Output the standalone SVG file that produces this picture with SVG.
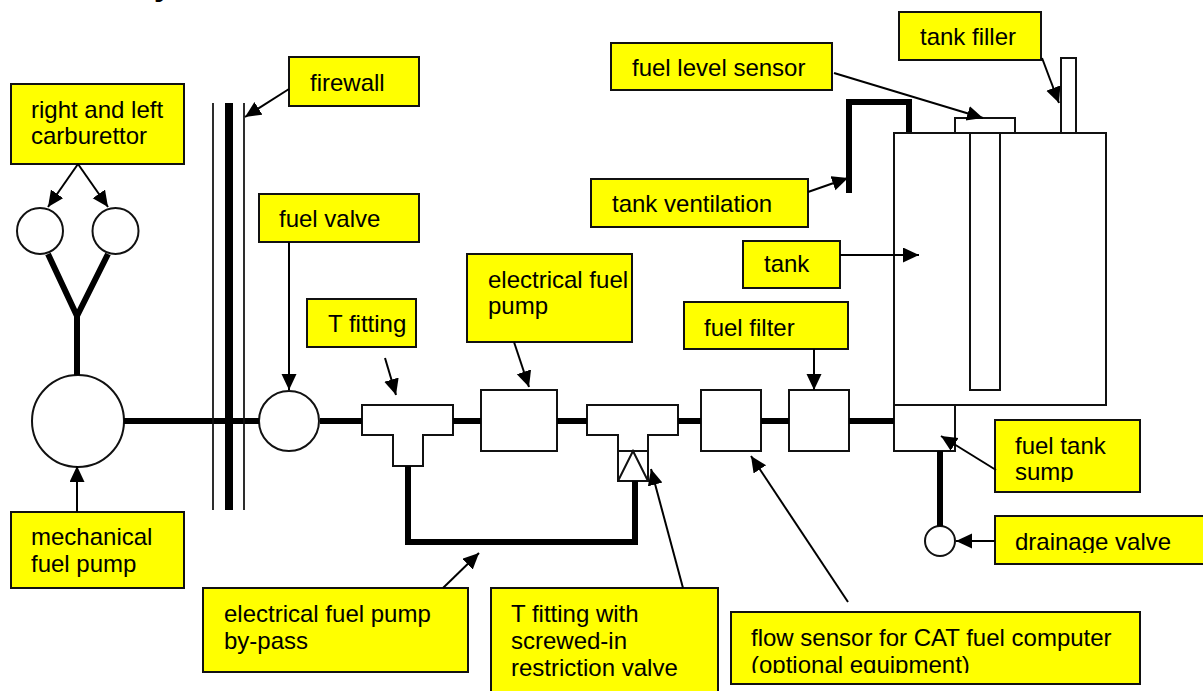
<svg xmlns="http://www.w3.org/2000/svg" width="1203" height="691" viewBox="0 0 1203 691">
<style>
text{font-family:"Liberation Sans",Arial,sans-serif;font-size:24px;fill:#000}
.b{fill:#ff0;stroke:#111;stroke-width:2}
.s{fill:#fff;stroke:#111;stroke-width:2}
.p{fill:none;stroke:#000;stroke-width:6}
.a{fill:none;stroke:#000;stroke-width:2;marker-end:url(#m)}
.t{fill:none;stroke:#111;stroke-width:1.75}
</style>
<defs>
<marker id="m" markerUnits="userSpaceOnUse" markerWidth="17" markerHeight="16" refX="16" refY="7.5" orient="auto"><path d="M0 0L16 7.5L0 15Z" fill="#000"/></marker>
<clipPath id="c1"><rect x="1000" y="425" width="135" height="57"/></clipPath>
<clipPath id="c2"><rect x="735" y="616" width="400" height="57"/></clipPath>
<clipPath id="c3"><rect x="1000" y="521" width="200" height="32"/></clipPath>
</defs>
<text x="154" y="-5" style="font-size:32px;font-weight:bold">y</text>
<g id="fuel-tank"><rect class="s" x="894" y="133" width="212" height="272"/></g>
<g id="level-sensor"><rect class="s" x="970" y="133" width="30" height="257"/><rect class="s" x="955" y="118" width="60" height="15"/></g>
<g id="filler"><rect class="s" x="1061" y="58" width="15" height="75"/></g>
<g id="sump"><rect class="s" x="894" y="405" width="61" height="46"/></g>
<g id="carburettor-l"><circle class="s" cx="40" cy="231" r="23"/></g>
<g id="carburettor-r"><circle class="s" cx="115.500" cy="231" r="23"/></g>
<g id="mech-pump"><circle class="s" cx="78" cy="421" r="46"/></g>
<g id="valve"><circle class="s" cx="289" cy="421" r="30"/></g>
<g id="drain"><circle class="s" cx="940" cy="541" r="15"/></g>
<g id="t-fitting"><path class="s" d="M362 405H453V435H423V466H393V435H362Z"/></g>
<g id="el-pump"><rect class="s" x="481" y="390" width="76" height="61"/></g>
<g id="t-valve"><path class="s" d="M587 405H678V435H648V481H618V435H587Z"/><path class="t" style="stroke-width:2" d="M618 451H648M618 481L633 451L648 481"/></g>
<g id="flow-sensor"><rect class="s" x="701" y="390" width="60" height="61"/></g>
<g id="filter"><rect class="s" x="789" y="390" width="60" height="61"/></g>
<g id="l-carb"><rect class="b" x="11" y="84" width="173" height="80"/><text x="31" y="118">right and left</text><text x="31" y="144">carburettor</text></g>
<g id="l-firewall"><rect class="b" x="289" y="57" width="130" height="49"/><text x="310" y="91">firewall</text></g>
<g id="l-valve"><rect class="b" x="259" y="194" width="160" height="48"/><text x="279" y="227">fuel valve</text></g>
<g id="l-tfit"><rect class="b" x="307" y="299" width="109" height="48"/><text x="328" y="332">T fitting</text></g>
<g id="l-elpump"><rect class="b" x="467" y="254" width="165" height="88"/><text x="488" y="288">electrical fuel</text><text x="488" y="314">pump</text></g>
<g id="l-filter"><rect class="b" x="684" y="302" width="164" height="47"/><text x="704" y="336">fuel filter</text></g>
<g id="l-tank"><rect class="b" x="743" y="241" width="97" height="47"/><text x="764" y="272">tank</text></g>
<g id="l-vent"><rect class="b" x="591" y="179" width="217" height="48"/><text x="612" y="212">tank ventilation</text></g>
<g id="l-level"><rect class="b" x="611" y="43" width="221" height="47"/><text x="632" y="76">fuel level sensor</text></g>
<g id="l-filler"><rect class="b" x="899" y="12" width="142" height="48"/><text x="920" y="45">tank filler</text></g>
<g id="l-sump"><rect class="b" x="995" y="420" width="145" height="72"/><g clip-path="url(#c1)"><text x="1015" y="454">fuel tank</text><text x="1015" y="480">sump</text></g></g>
<g id="l-drain"><rect class="b" x="995" y="516" width="209" height="48"/><g clip-path="url(#c3)"><text x="1015" y="550">drainage valve</text></g></g>
<g id="l-flow"><rect class="b" x="731" y="612" width="409" height="72"/><g clip-path="url(#c2)"><text x="751" y="646">flow sensor for CAT fuel computer</text><text x="751" y="673">(optional equipment)</text></g></g>
<g id="l-restrict"><rect class="b" x="491" y="588" width="227" height="110"/><text x="511" y="622">T fitting with</text><text x="511" y="649">screwed-in</text><text x="511" y="676">restriction valve</text></g>
<g id="l-bypass"><rect class="b" x="203" y="588" width="265" height="84"/><text x="224" y="622">electrical fuel pump</text><text x="224" y="649">by-pass</text></g>
<g id="l-mech"><rect class="b" x="11" y="512" width="173" height="76"/><text x="31" y="545">mechanical</text><text x="31" y="572">fuel pump</text></g>
<g id="connectors">
<path class="p" d="M124 421H259M320 421H362M453 421H481M557 421H587M678 421H701M761 421H789M849 421H894"/>
<path class="p" d="M77 375V316M77 316L48 254M77 316L108 254"/>
<path class="p" d="M408 466V542H635V481"/>
<path class="p" d="M849 193V102H909V132"/>
<path class="p" d="M940 451V526"/>
<path class="t" d="M213 103V510M244 103V510"/>
<path d="M229 103V510" fill="none" stroke="#000" stroke-width="8"/>
<path class="a" d="M289 89L245 117"/>
<path class="a" d="M78 164L48 207"/>
<path class="a" d="M78 164L108 207"/>
<path class="a" d="M289 242V390"/>
<path class="a" d="M77 512V466"/>
<path class="a" d="M385 358L396 395"/>
<path class="a" d="M514 342L529 387"/>
<path class="a" d="M814 349V390"/>
<path class="a" d="M840 255H919"/>
<path class="a" d="M808 192L848 178"/>
<path class="a" d="M834 73L983 118"/>
<path class="a" d="M1042 58L1059 103"/>
<path class="a" d="M996 470L941 436"/>
<path class="a" d="M995 541H956"/>
<path class="a" d="M848 602L751 456"/>
<path class="a" d="M683 588L651 469"/>
<path class="a" d="M443 588L479 553"/>
</g>
</svg>
